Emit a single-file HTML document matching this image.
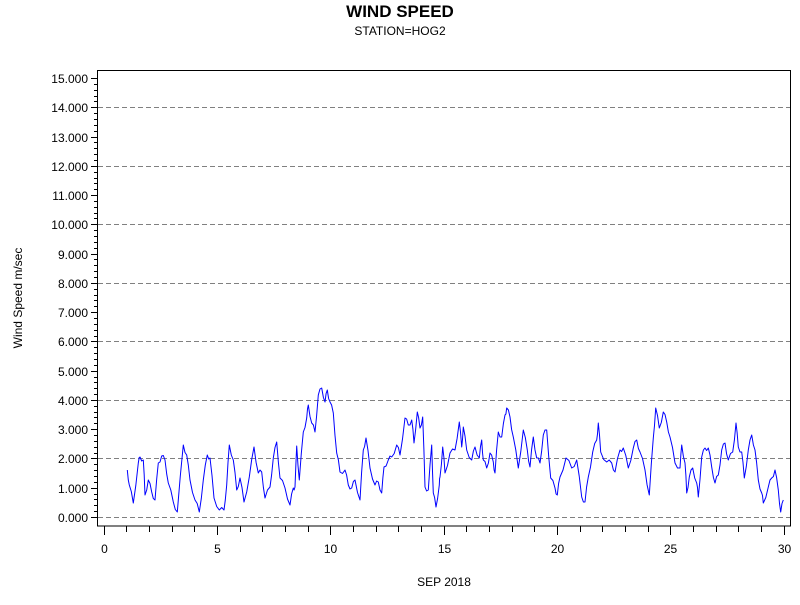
<!DOCTYPE html>
<html><head><meta charset="utf-8"><style>
body{margin:0;background:#fff;}
svg text{font-family:"Liberation Sans",Arial,sans-serif;}
</style></head><body>
<svg id="s" width="800" height="600" xmlns="http://www.w3.org/2000/svg">
<rect width="800" height="600" fill="#fff"/>
<text x="400" y="17" font-size="17" font-weight="bold" text-anchor="middle">WIND SPEED</text>
<text x="400" y="35" font-size="12" text-anchor="middle">STATION=HOG2</text>
<text x="22" y="298" font-size="12" text-anchor="middle" transform="rotate(-90 22 298)">Wind Speed m/sec</text>
<text x="444" y="586" font-size="12" text-anchor="middle">SEP 2018</text>
<g id="grid"></g>
<rect x="97.5" y="70.5" width="693" height="455.5" fill="none" stroke="#000" stroke-width="1"/>
<g id="ticks" stroke="#000"></g>
<g id="lab" font-size="12"></g>
<polyline id="line" fill="none" stroke="#0000ff" stroke-width="1" stroke-linejoin="round"/>
</svg>
<script>
var ns="http://www.w3.org/2000/svg";
function el(p,t,a,txt){var e=document.createElementNS(ns,t);for(var k in a)e.setAttribute(k,a[k]);if(txt!=null)e.textContent=txt;document.getElementById(p).appendChild(e);}
function Y(v){return 517-v*29.267;}
for(var v=0;v<=15;v++){var y=Math.round(Y(v))+0.5;
 if(v<15&&v%2==0) el("grid","line",{x1:98,x2:790,y1:y,y2:y,stroke:"#808080","stroke-dasharray":"5,3"});
 el("ticks","line",{x1:91,x2:97,y1:y,y2:y});
 el("lab","text",{x:88,y:y+4.5,"text-anchor":"end"},v.toFixed(3));
 if(v<15)for(var m=1;m<5;m++){var yy=Math.round(Y(v+m*0.2))+0.5;el("ticks","line",{x1:94,x2:97,y1:yy,y2:yy});}}
for(var d=0;d<=30;d++){var x=Math.round(103.5+d*22.667)+0.5;
 el("ticks","line",{x1:x,x2:x,y1:526,y2:d%5==0?535:532});
 if(d%5==0)el("lab","text",{x:x,y:553,"text-anchor":"middle"},String(d));}
var P=[127.3,470,129.3,485,133.3,503,138.3,463,140,457,143.3,460,145,495,148.3,480,151.7,492,155,500,158.3,463,161.7,456,165,460,168.3,483,173.3,502,177.3,512,183.3,445,186.7,455,190,480,195,500,199.3,512,203.3,480,207.3,455,210,458,214,498,219.3,510,224,510,226.7,485,229.3,445,233.3,460,236.7,490,240,478,244,502,249.3,477,254,447,258.3,473,261.7,472,265,498,270,487,273.3,458,276.7,442,280,478,285,488,290,505,293.3,488,295,487,296.7,446,299.3,480,303.3,432,306.7,418,308.3,405,311.7,423,315,432,318.3,395,321.7,388,325,402,327.3,390,330,402,333.3,413,336.7,453,340,472,345,470,348.3,485,351.7,488,355,480,360,500,363.3,450,366,438,370,468,375,485,378.3,482,381.7,493,384,467,388.3,460,391.7,457,396.7,445,400,455,405,418,408.3,425,411.7,420,414,443,417.3,412,420,428,422.7,417,425,487,428.3,490,431.7,445,433.3,493,436,507,439.3,485,
440,477,442.7,447,445,473,450,453,455,450,459.3,422,461.7,447,463.3,427,466.7,450,471.7,460,475,447,479.3,458,481.7,440,483.3,460,486.7,468,490,453,493.3,462,495,473,498.3,432,501.7,437,505,415,506.7,408,510,417,513.3,437,518.3,468,523.3,430,527.3,450,530,467,533.3,437,536.7,458,540,463,543.3,435,546.7,430,550.7,478,555,488,557.3,495,560,477,566,458,571.7,468,576.7,460,581.7,497,585,502,588.3,477,592.7,452,596.7,440,598.3,423,600.7,452,606.7,462,611.7,463,615,472,620,450,623.3,448,628.3,468,633.3,448,636.7,440,640,452,645,470,649.3,495,653.3,438,655.7,408,659.3,428,663.3,412,666.7,422,670,437,675,463,680,468,681.7,445,685,463,686.7,493,689.3,477,692.7,468,696.7,483,698.3,497,701.7,457,705,448,708.3,448,711.7,467,715,483,718.3,475,721.7,450,725,443,728.3,460,732.7,452,736,423,738.3,447,741.7,452,744.3,478,748.3,450,751.7,435,755,450,758.3,480,761.7,493,763.3,503,768.3,487,771.7,478,775,470,778.3,490,780.7,512,783.3,500];
var out=[],s=1;
for(var i=0;i<P.length;i+=2){out.push(P[i]+","+P[i+1]);
 if(i+2<P.length){var mx=(P[i]+P[i+2])/2,my=(P[i+1]+P[i+3])/2+(s*2.5);s=-s;out.push(mx.toFixed(1)+","+my.toFixed(1));}}
document.getElementById("line").setAttribute("points",out.join(" "));
</script>
</body></html>
